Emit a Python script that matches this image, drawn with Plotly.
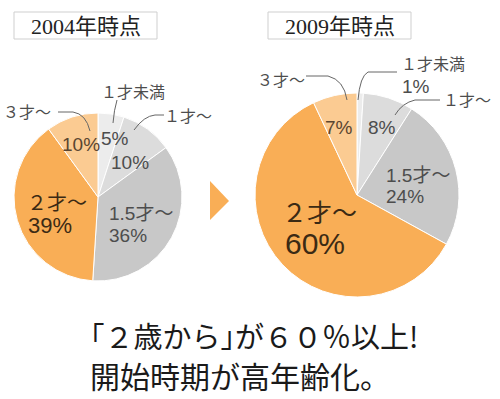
import plotly.graph_objects as go

W, H = 500, 399

categories = ["1才未満", "1才～", "1.5才～", "2才～", "3才～"]
values_2004 = [5, 10, 36, 39, 10]
values_2009 = [1, 8, 24, 60, 7]
titles = ["2004年時点", "2009年時点"]
colors = ["#ececec", "#dcdcdc", "#c8c8c8", "#f9ae56", "#fbcb92"]
headline = ["｢２歳から｣が６０％以上!", "開始時期が高年齢化。"]


def px(x):
    return x / W


def py(y):
    return 1 - y / H


def dom(cx, cy, r):
    return dict(x=[px(cx - r), px(cx + r)], y=[py(cy + r), py(cy - r)])


fig = go.Figure()
for vals, d in [(values_2004, dom(98, 197, 84)), (values_2009, dom(357, 195, 102))]:
    fig.add_trace(go.Pie(
        labels=categories, values=vals, sort=False, direction="clockwise",
        rotation=0, textinfo="none", hoverinfo="skip", showlegend=False,
        marker=dict(colors=colors, line=dict(color="white", width=1)),
        domain=d,
    ))

shapes = []
annotations = []

# title boxes
for (x0, x1), t in zip([(14, 157), (268, 411)], titles):
    shapes.append(dict(type="rect", xref="paper", yref="paper",
                       x0=px(x0), x1=px(x1), y0=py(39), y1=py(12),
                       line=dict(color="#cfcfcf", width=1), fillcolor="white"))
    annotations.append(dict(text=t, x=px((x0 + x1) / 2), y=py(26), xref="paper", yref="paper",
                            showarrow=False, xanchor="center", yanchor="middle",
                            font=dict(family="Liberation Serif, Noto Sans CJK JP", size=22, color="#222")))

# arrow triangle
shapes.append(dict(type="path", xref="paper", yref="paper",
                   path=f"M{px(210)},{py(181)} L{px(229)},{py(201)} L{px(210)},{py(220)} Z",
                   fillcolor="#f9ae56", line=dict(width=0)))


def curve(pts):
    s = ""
    for cmd, *c in pts:
        coords = []
        for i in range(0, len(c), 2):
            coords.append(f"{px(c[i])},{py(c[i+1])}")
        s += cmd + " ".join(coords) + " "
    shapes.append(dict(type="path", xref="paper", yref="paper", path=s.strip(),
                       line=dict(color="#666", width=1)))


# leader lines left
curve([("M", 117, 100), ("Q", 114, 110, 113, 123)])
curve([("M", 164, 115), ("L", 155, 115), ("Q", 144, 116, 134, 130)])
curve([("M", 58, 112), ("L", 73, 112), ("Q", 86, 114, 90, 131)])
# leader lines right
curve([("M", 306, 76), ("L", 328, 76), ("Q", 344, 80, 347, 100)])
curve([("M", 397, 72), ("L", 368, 72), ("Q", 360, 76, 358, 100)])
curve([("M", 440, 100), ("L", 415, 100), ("Q", 402, 103, 395, 115)])

LF = "Liberation Sans, Noto Sans CJK JP"


def lab(text, x, y, size, color="#4d4d4d", anchor="left"):
    annotations.append(dict(text=text, x=px(x), y=py(y), xref="paper", yref="paper",
                            showarrow=False, xanchor=anchor, yanchor="middle",
                            font=dict(family=LF, size=size, color=color)))


# left pie labels
lab("１才未満", 133, 92, 16, anchor="center")
lab("１才～", 162, 116, 16)
lab("３才～", 1, 113, 16)
lab("5%", 115, 138, 19, anchor="center")
lab("10%", 81, 145, 19, color="#5a4530", anchor="center")
lab("10%", 130, 162, 19, anchor="center")
lab("1.5才～", 107, 213, 19)
lab("36%", 107, 235, 19)
lab("２才～", 25, 203, 20, color="#3b2a14")
lab("39%", 26, 225, 22, color="#3b2a14")

# right pie labels
lab("１才未満", 399, 65, 16)
lab("1%", 400, 86, 19)
lab("３才～", 255, 80, 16)
lab("１才～", 441, 101, 16)
lab("7%", 339, 127, 19, color="#5a4530", anchor="center")
lab("8%", 382, 127, 19, anchor="center")
lab("1.5才～", 384, 175, 19)
lab("24%", 384, 196, 19)
lab("２才～", 280, 213, 25, color="#3b2a14")
lab("60%", 283, 243, 30, color="#3b2a14")

# headline
for t, y, x, s in zip(headline, [335, 375], [88, 88], [29, 30]):
    annotations.append(dict(text=t, x=px(x), y=py(y), xref="paper", yref="paper",
                            showarrow=False, xanchor="left", yanchor="middle",
                            font=dict(family="Noto Sans CJK JP", size=s, color="#1a1a1a")))

fig.update_layout(width=W, height=H, margin=dict(l=0, r=0, t=0, b=0),
                  paper_bgcolor="white", plot_bgcolor="white",
                  shapes=shapes, annotations=annotations)
fig.write_html("out.html", config={"displayModeBar": False},
               post_script="document.body.style.margin='0';")
